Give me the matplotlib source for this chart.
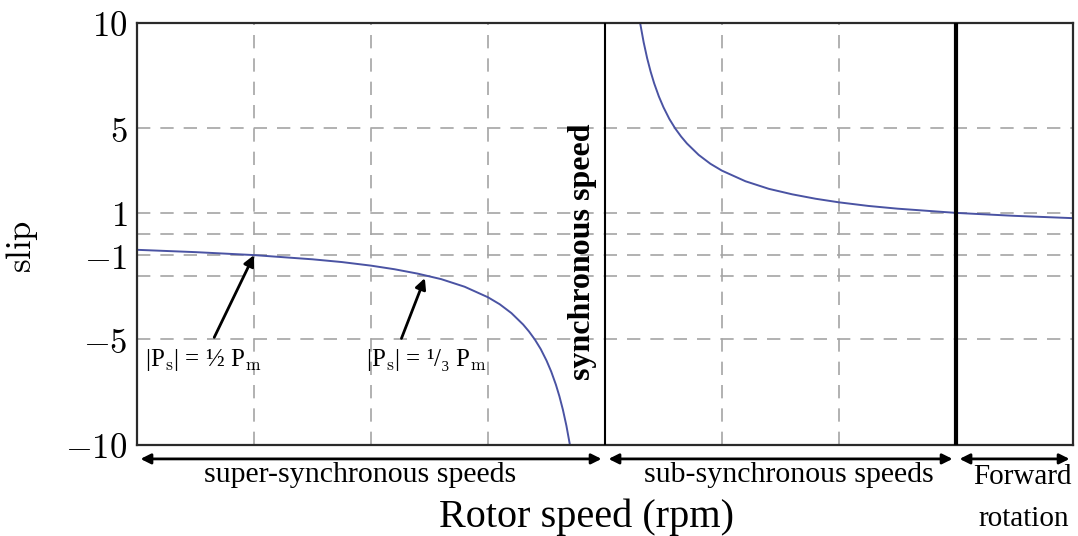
import matplotlib

matplotlib.use("Agg")
import matplotlib.pyplot as plt  # noqa: E402

plt.rcParams["mathtext.fontset"] = "cm"

# rotor speed relative to synchronous speed (grid units), slip
speed_super = [-4.0, -3.5, -3.0, -2.5, -2.25, -2.0, -1.8, -1.6, -1.4, -1.2,
               -1.0, -0.9, -0.8, -0.7, -0.65, -0.6, -0.55, -0.5, -0.46,
               -0.42, -0.39, -0.36, -0.33, -0.3]
slip_super = [-0.75, -0.86, -1.0, -1.2, -1.33, -1.5, -1.67, -1.88, -2.14,
              -2.5, -3.0, -3.33, -3.75, -4.29, -4.62, -5.0, -5.45, -6.0,
              -6.52, -7.14, -7.69, -8.33, -9.09, -10.0]
speed_sub = [0.3, 0.33, 0.36, 0.39, 0.42, 0.46, 0.5, 0.55, 0.6, 0.65, 0.7,
             0.8, 0.9, 1.0, 1.2, 1.4, 1.6, 1.8, 2.0, 2.25, 2.5, 3.0, 3.5, 4.0]
slip_sub = [10.0, 9.09, 8.33, 7.69, 7.14, 6.52, 6.0, 5.45, 5.0, 4.62, 4.29,
            3.75, 3.33, 3.0, 2.5, 2.14, 1.88, 1.67, 1.5, 1.33, 1.2, 1.0, 0.86,
            0.75]

y_ticks = [10, 5, 1, -1, -5, -10]
y_grid = [5, 1, 0, -1, -2, -5]
x_grid = [-3, -2, -1, 1, 2]
sync_speed = 0
standstill = 3

CURVE = "#4a53a3"
GRID = "#a4a4a4"
SERIF = ["Liberation Serif", "DejaVu Serif"]
DASH = (0, (8, 6))

fig = plt.figure(figsize=(10.78, 5.36), dpi=100)
ax = fig.add_axes([0.1271, 0.1698, 0.8683, 0.7873])
ax.set_xlim(-4, 4)
ax.set_ylim(-10, 10)

for g in y_grid:
    ax.axhline(g, color=GRID, lw=1.2, ls=DASH, zorder=1)
for g in x_grid:
    ax.axvline(g, color=GRID, lw=1.2, ls=DASH, zorder=1)
ax.axvline(sync_speed, color="black", lw=1.5, zorder=3)
ax.axvline(standstill, color="black", lw=3, zorder=3)

ax.plot(speed_super, slip_super, color=CURVE, lw=1.4, zorder=2)
ax.plot(speed_sub, slip_sub, color=CURVE, lw=1.4, zorder=2)

ax.set_yticks(y_ticks)
ax.set_yticklabels([f"${v}$" for v in y_ticks], fontsize=25)
ax.set_xticks([])
ax.tick_params(axis="y", length=0, pad=7)
for s in ax.spines.values():
    s.set_color("#2a2a2a")
    s.set_linewidth(1.6)
ax.set_ylabel("$\\mathrm{slip}$", fontsize=25)
ax.yaxis.set_label_coords(-0.1036, 0.47)

ax.text(-0.19, -0.85, "synchronous speed", rotation=90, ha="center", va="center",
        fontsize=23, fontweight="bold", family=SERIF, zorder=4)

# |Ps| annotations: arrows from the labels to the curve
arrow = dict(arrowstyle="-|>", color="black", lw=2, mutation_scale=16,
             shrinkA=0, shrinkB=0)
ax.annotate("", xy=(-3.0, -1.0), xytext=(-3.34, -4.9), arrowprops=arrow)
ax.annotate("", xy=(-1.54, -2.09), xytext=(-1.74, -4.95), arrowprops=arrow)
ax.text(-3.93, -6.25, "|P$_{\\mathrm{s}}$| = ½ P$_{\\mathrm{m}}$", fontsize=18,
        family=SERIF, va="baseline")
ax.text(-2.04, -6.25, "|P$_{\\mathrm{s}}$| = ¹/₃ P$_{\\mathrm{m}}$", fontsize=18,
        family=SERIF, va="baseline")

# speed-range arrows under the axis
y_arr = -0.033
ranges = [(-4, sync_speed), (sync_speed, standstill), (standstill, 4)]
for a, b in ranges:
    ax.annotate("", xy=(a + 0.03, y_arr), xytext=(b - 0.03, y_arr),
                xycoords=("data", "axes fraction"),
                textcoords=("data", "axes fraction"), annotation_clip=False,
                arrowprops=dict(arrowstyle="<|-|>", color="black", lw=2,
                                mutation_scale=15, shrinkA=0, shrinkB=0))

lab = dict(xycoords=("data", "axes fraction"), ha="center", va="center",
           family=SERIF, annotation_clip=False)
ax.annotate("super-synchronous speeds", xy=(-2.09, -0.07), fontsize=21.5, **lab)
ax.annotate("sub-synchronous speeds", xy=(1.57, -0.07), fontsize=21.5, **lab)
ax.annotate("Forward", xy=(3.57, -0.076), fontsize=21, **lab)
ax.annotate("rotation", xy=(3.58, -0.176), fontsize=21, **lab)
ax.annotate("Rotor speed (rpm)", xy=(-0.16, -0.172), fontsize=29, **lab)

fig.savefig("out.png", dpi=100, facecolor="white")
